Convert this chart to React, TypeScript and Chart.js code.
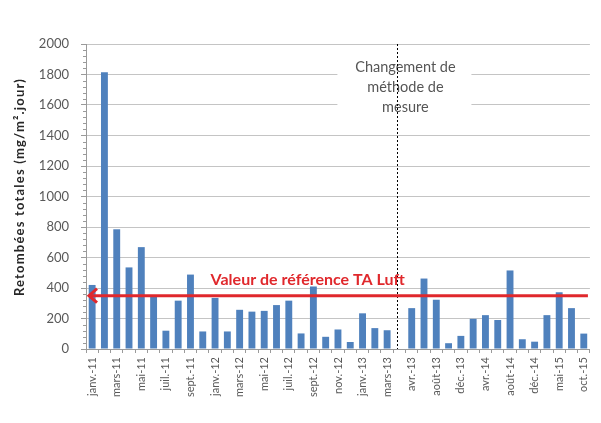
import React, { useEffect, useRef } from "react";
import { Chart, registerables } from "chart.js";

Chart.register(...registerables);

const categories: string[] = [
  "janv.-11", "févr.-11", "mars-11", "avr.-11", "mai-11", "juin-11", "juil.-11", "août-11",
  "sept.-11", "nov.-11", "janv.-12", "févr.-12", "mars-12", "avr.-12", "mai-12", "juin-12",
  "juil.-12", "août-12", "sept.-12", "oct.-12", "nov.-12", "déc.-12", "janv.-13", "févr.-13",
  "mars-13", "", "avr.-13", "juin-13", "août-13", "oct.-13", "déc.-13", "févr.-14",
  "avr.-14", "juin-14", "août-14", "oct.-14", "déc.-14", "mars-15", "mai-15", "août-15",
  "oct.-15",
];

const values: (number | null)[] = [
  420, 1815, 785, 535, 668, 345, 120, 317,
  488, 115, 335, 115, 257, 245, 250, 288,
  317, 102, 410, 80, 128, 46, 234, 137,
  123, null, 268, 462, 323, 38, 86, 198,
  222, 190, 515, 64, 48, 222, 372, 268,
  101,
];

const referenceValue = 350;
const referenceLabel = "Valeur de référence TA Luft";
const changeIndex = 25;
const changeNote = ["Changement de", "méthode de", "mesure"];
const yTitle = "Retombées totales (mg/m².jour)";

const FONT = "Lato, 'Open Sans', sans-serif";

const overlayPlugin = {
  id: "overlay",
  afterDraw(chart: any) {
    const ctx = chart.ctx as CanvasRenderingContext2D;
    const area = chart.chartArea;
    const y = chart.scales.y;
    const x = chart.scales.x;
    ctx.save();

    // minor ticks on y axis
    ctx.strokeStyle = "#9a9a9a";
    ctx.lineWidth = 1;
    for (let v = 0; v <= 2000; v += 40) {
      if (v % 200 === 0) continue;
      const py = Math.round(y.getPixelForValue(v)) + 0.5;
      ctx.beginPath();
      ctx.moveTo(area.left - 3, py);
      ctx.lineTo(area.left, py);
      ctx.stroke();
    }

    // annotation box & text
    const cx = x.getPixelForValue(changeIndex);
    ctx.fillStyle = "#ffffff";
    ctx.fillRect(cx - 62, 54, 134, 66);
    ctx.fillStyle = "#555555";
    ctx.font = `14.5px ${FONT}`;
    ctx.textAlign = "center";
    ctx.textBaseline = "middle";
    changeNote.forEach((t, i) => ctx.fillText(t, cx + 6, 67 + i * 20));

    // dotted vertical line
    ctx.strokeStyle = "#000000";
    ctx.lineWidth = 1;
    ctx.setLineDash([2, 2]);
    ctx.beginPath();
    ctx.moveTo(Math.round(cx - 2) + 0.5, area.top);
    ctx.lineTo(Math.round(cx - 2) + 0.5, area.bottom);
    ctx.stroke();
    ctx.setLineDash([]);

    // reference line with arrow
    const ry = y.getPixelForValue(referenceValue);
    ctx.strokeStyle = "#e0282c";
    ctx.lineWidth = 3;
    ctx.beginPath();
    ctx.moveTo(area.left + 3, ry);
    ctx.lineTo(area.right - 2, ry);
    ctx.stroke();
    ctx.beginPath();
    ctx.moveTo(area.left + 11, ry - 7);
    ctx.lineTo(area.left + 3, ry);
    ctx.lineTo(area.left + 11, ry + 7);
    ctx.stroke();

    ctx.fillStyle = "#e0282c";
    ctx.font = `bold 16px ${FONT}`;
    ctx.textAlign = "center";
    ctx.textBaseline = "middle";
    ctx.fillText(referenceLabel, area.left + (area.right - area.left) * 0.44, 280);

    // y title
    ctx.save();
    ctx.translate(20, 187);
    ctx.rotate(-Math.PI / 2);
    ctx.fillStyle = "#262626";
    ctx.font = `bold 13px ${FONT}`;
    (ctx as any).letterSpacing = "1.2px";
    ctx.textAlign = "center";
    ctx.textBaseline = "middle";
    ctx.fillText(yTitle, 0, 0);
    ctx.restore();

    ctx.restore();
  },
};

export default function App() {
  const ref = useRef<HTMLCanvasElement | null>(null);
  useEffect(() => {
    if (!ref.current) return;
    const chart = new Chart(ref.current, {
      type: "bar",
      data: {
        labels: categories,
        datasets: [
          {
            data: values,
            backgroundColor: "#4f81bd",
            borderWidth: 0,
            barPercentage: 0.56,
            categoryPercentage: 1,
          },
        ],
      },
      options: {
        animation: false,
        responsive: false,
        maintainAspectRatio: false,
        layout: { padding: { top: 44, right: 2, left: 0, bottom: 0 } },
        plugins: { legend: { display: false }, tooltip: { enabled: false } },
        scales: {
          x: {
            grid: {
              display: true,
              drawOnChartArea: false,
              tickLength: 4,
              color: "#9a9a9a",
            },
            border: { color: "#9a9a9a" },
            ticks: {
              autoSkip: false,
              maxRotation: 90,
              minRotation: 90,
              padding: 4,
              color: "#595959",
              font: { family: FONT, size: 11 },
              callback: (_v: any, i: number) => (i % 2 === 0 ? categories[i] : ""),
            },
            afterFit: (s: any) => {
              s.height = 74;
            },
          },
          y: {
            min: 0,
            max: 2000,
            ticks: {
              stepSize: 200,
              padding: 12,
              color: "#595959",
              font: { family: FONT, size: 13 },
              callback: (v: any) => String(v),
            },
            grid: { color: "#c4c4c4", tickLength: 5, tickColor: "#9a9a9a" },
            border: { color: "#9a9a9a" },
            afterFit: (s: any) => {
              s.width = 86;
            },
          },
        },
      },
      plugins: [overlayPlugin],
    });
    return () => chart.destroy();
  }, []);
  return (
    <div style={{ position: "absolute", left: 0, top: 0, width: 601, height: 423, background: "#fff" }}>
      <canvas ref={ref} width={601} height={423} style={{ width: 601, height: 423 }} />
    </div>
  );
}
